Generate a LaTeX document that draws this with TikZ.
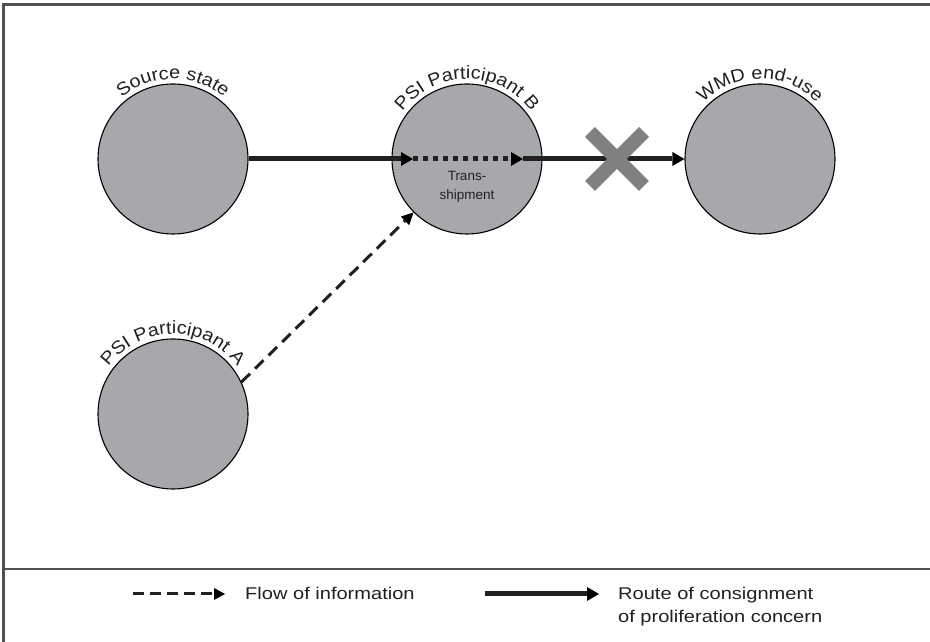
\documentclass[tikz,border=0pt]{standalone}
\usepackage{fontspec}
\setmainfont{Liberation Sans}[FakeStretch=1.18]
\newfontfamily\arcfamily{Liberation Sans}[FakeStretch=1.1]
\newfontfamily\plainfamily{Liberation Sans}
\usetikzlibrary{arrows.meta,decorations.text,calc}
\definecolor{circfill}{RGB}{167,168,172}
\definecolor{ink}{RGB}{35,31,32}
\definecolor{xgray}{RGB}{128,128,131}
\definecolor{framecol}{RGB}{80,80,80}
\newcommand{\lblfont}{\arcfamily\fontsize{18}{20}\selectfont}
\begin{document}
\begin{tikzpicture}[x=1pt,y=1pt,
  statenode/.style={circle, draw=black, line width=1.1pt, fill=circfill, minimum size=150pt, inner sep=0pt},
  routeline/.style={draw=ink, line width=5pt, -{Triangle[length=12pt,width=14pt,line width=0pt]}},
  dotline/.style={draw=ink, line width=5pt, dash pattern=on 5pt off 5pt, -{Triangle[length=12pt,width=14pt,line width=0pt]}},
  infoline/.style={draw=ink, line width=3pt, dash pattern=on 12pt off 7pt, -{Triangle[length=12pt,width=12pt,line width=0pt]}},
  legdash/.style={draw=ink, line width=3pt, dash pattern=on 11pt off 6pt, -{Triangle[length=11pt,width=12pt,line width=0pt]}},
  framestyle/.style={draw=framecol, line width=2.5pt},
  crossline/.style={draw=xgray, line width=14pt},
  legtext/.style={font=\fontsize{17}{23}\selectfont, text=ink, inner sep=0pt},
  arclabel/.style={decorate, decoration={text along path, text align=center, text color=ink}}
]
\useasboundingbox (0,0) rectangle (930,642);
% frame
\coordinate (fbl) at (3.5,0);
\coordinate (ftl) at (3.5,637.5);
\coordinate (ftr) at (930,637.5);
\coordinate (sepl) at (3.5,73);
\coordinate (sepr) at (930,73);
\draw[framestyle] (fbl) -- (ftl) -- (ftr);
\draw[framestyle] (sepl) -- (sepr);

% states
\node[statenode] (src) at (173,483) {};
\node[statenode] (B) at (467,483) {};
\node[statenode] (wmd) at (760,483) {};
\node[statenode] (A) at (173,228) {};

% arc labels
\path[arclabel, decoration={text={|\lblfont|Source state}}]
  ($(src.center)+(160:80)$) arc[start angle=160, end angle=20, radius=80];
\path[arclabel, decoration={text={|\lblfont|PSI Participant B}}]
  ($(B.center)+(170:80)$) arc[start angle=170, end angle=10, radius=80];
\path[arclabel, decoration={text={|\lblfont|WMD end-use}}]
  ($(wmd.center)+(160:80)$) arc[start angle=160, end angle=20, radius=80];
\path[arclabel, decoration={text={|\lblfont|PSI Participant A}}]
  ($(A.center)+(170:80)$) arc[start angle=170, end angle=10, radius=80];

% transshipment
\coordinate (tin) at ($(B.center)+(-54,0)$);
\coordinate (tout) at ($(B.center)+(56,0)$);
\node[font=\plainfamily\fontsize{13.5}{19}\selectfont, text=ink, align=center, inner sep=0pt] (ts) at ($(B.center)+(0,-28)$) {Trans-\\shipment};

% route
\draw[routeline] (src.east) -- (tin);
\draw[dotline] (tin) -- (tout);
\draw[routeline] (tout) -- (wmd.west);

% cross
\coordinate (xc) at (617,483);
\draw[crossline] ($(xc)+(-27,-27)$) -- ($(xc)+(27,27)$);
\draw[crossline] ($(xc)+(-27,27)$) -- ($(xc)+(27,-27)$);

% information flow
\draw[infoline] (A.25) -- (B.225);

% legend
\coordinate (l1a) at (133,48);
\coordinate (l1b) at (225,48);
\coordinate (l2a) at (485,48);
\coordinate (l2b) at (599,48);
\draw[legdash] (l1a) -- (l1b);
\draw[routeline] (l2a) -- (l2b);
\node[legtext, anchor=base west] (flow) at (245,42) {Flow of information};
\node[legtext, anchor=base west] (route) at (618,42) {\begin{tabular}[t]{@{}l@{}}Route of consignment\\of proliferation concern\end{tabular}};
\end{tikzpicture}
\end{document}
